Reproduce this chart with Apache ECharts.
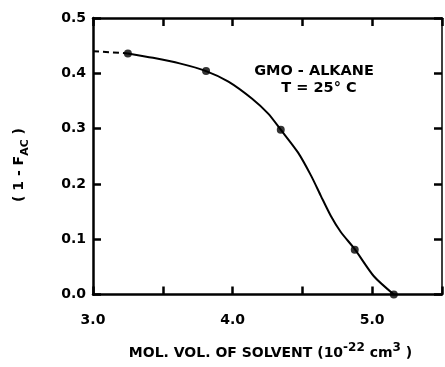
<!DOCTYPE html>
<html>
<head>
<meta charset="utf-8">
<script src="https://cdn.jsdelivr.net/npm/echarts@6/dist/echarts.min.js"></script>
<style>
  html, body { margin: 0; padding: 0; background: #fff; }
  #chart { width: 445px; height: 367px; }
</style>
</head>
<body>
<div id="chart"></div>
<script>
// Measured points: molar volume of solvent (1e-22 cm^3) vs (1 - F_AC)
const molVol = [3.25, 3.81, 4.345, 4.875, 5.155];
const oneMinusFac = [0.436, 0.404, 0.298, 0.081, 0.0];

// Hand-drawn trend curve through the points
const curveX = [3.25, 3.43, 3.62, 3.81, 3.97, 4.14, 4.255, 4.345, 4.468, 4.562, 4.633, 4.704, 4.775, 4.875, 5.012, 5.155];
const curveY = [0.436, 0.428, 0.418, 0.404, 0.385, 0.354, 0.327, 0.298, 0.257, 0.215, 0.178, 0.142, 0.113, 0.082, 0.033, 0.0];

// Dashed extrapolation toward the y axis
const extX = [3.0, 3.25];
const extY = [0.44, 0.436];

// Axis ranges and tick labels
const xMin = 3.0, xMax = 5.5, xStep = 0.5;
const yMin = 0.0, yMax = 0.5, yStep = 0.1;
const xTickLabels = ['3.0', '4.0', '5.0'];

const pairs = (xs, ys) => xs.map((x, i) => [x, ys[i]]);
const FONT = 'DejaVu Sans';
const INK = '#000';

// Ticks point into the plot on all four sides
const makeTick = () => ({ show: true, inside: true, length: 8, lineStyle: { color: INK, width: 2.5 } });
// Keep every axis line on its own edge of the frame
const makeLine = (w) => ({ show: true, onZero: false, lineStyle: { color: INK, width: w } });

const chart = echarts.init(document.getElementById('chart'));

chart.setOption({
  animation: false,
  grid: { left: 93, right: 1, top: 18, bottom: 72.5 },
  xAxis: [
    {
      type: 'value', position: 'bottom', min: xMin, max: xMax, interval: xStep,
      axisLine: makeLine(2.5),
      axisTick: makeTick(),
      splitLine: { show: false },
      axisLabel: {
        margin: 19, color: INK, fontFamily: FONT, fontWeight: 'bold', fontSize: 14,
        formatter: v => {
          const s = v.toFixed(1);
          return xTickLabels.indexOf(s) >= 0 ? s : '';
        }
      },
      name: '{m|MOL. VOL. OF SOLVENT (10}{p|-22}{m| cm}{p|3}{m| )}',
      nameLocation: 'middle',
      nameGap: 47,
      nameTextStyle: {
        padding: [0, 0, 0, 6],
        rich: {
          m: { fontFamily: FONT, fontWeight: 'bold', fontSize: 14, color: INK, lineHeight: 24, verticalAlign: 'middle' },
          p: { fontFamily: FONT, fontWeight: 'bold', fontSize: 12, color: INK, lineHeight: 12, verticalAlign: 'top' }
        }
      }
    },
    {
      type: 'value', position: 'top', min: xMin, max: xMax, interval: xStep,
      axisLine: makeLine(2.5),
      axisTick: makeTick(),
      axisLabel: { show: false },
      splitLine: { show: false }
    }
  ],
  yAxis: [
    {
      type: 'value', position: 'left', min: yMin, max: yMax, interval: yStep,
      axisLine: makeLine(2.5),
      axisTick: makeTick(),
      splitLine: { show: false },
      axisLabel: {
        margin: 7, color: INK, fontFamily: FONT, fontWeight: 'bold', fontSize: 14,
        formatter: v => v.toFixed(1)
      }
    },
    {
      type: 'value', position: 'right', min: yMin, max: yMax, interval: yStep,
      axisLine: makeLine(1.5),
      axisTick: makeTick(),
      axisLabel: { show: false },
      splitLine: { show: false }
    }
  ],
  graphic: [
    {
      type: 'text', x: 19, y: 165, rotation: Math.PI / 2,
      style: {
        text: '{m|( 1 - F}{s|AC}{m| )}',
        align: 'center', verticalAlign: 'middle',
        rich: {
          m: { fontFamily: FONT, fontWeight: 'bold', fontSize: 14, fill: INK, lineHeight: 24, verticalAlign: 'middle' },
          s: { fontFamily: FONT, fontWeight: 'bold', fontSize: 11, fill: INK, lineHeight: 11, verticalAlign: 'bottom' }
        }
      }
    },
    {
      type: 'text', x: 314, y: 71,
      style: {
        text: 'GMO - ALKANE', fill: INK,
        font: 'bold 14.5px "DejaVu Sans"', align: 'center', verticalAlign: 'middle'
      }
    },
    {
      type: 'text', x: 319, y: 88,
      style: {
        text: 'T = 25° C', fill: INK,
        font: 'bold 14.5px "DejaVu Sans"', align: 'center', verticalAlign: 'middle'
      }
    }
  ],
  series: [
    {
      name: 'extrapolation', type: 'line', xAxisIndex: 0, yAxisIndex: 0,
      data: pairs(extX, extY), showSymbol: false,
      lineStyle: { color: INK, width: 2, type: [6, 4] }
    },
    {
      name: 'trend', type: 'line', xAxisIndex: 0, yAxisIndex: 0,
      data: pairs(curveX, curveY), showSymbol: false, smooth: 0.25,
      lineStyle: { color: INK, width: 2 }
    },
    {
      name: 'measured', type: 'scatter', xAxisIndex: 0, yAxisIndex: 0,
      data: pairs(molVol, oneMinusFac), symbol: 'circle', symbolSize: 8,
      itemStyle: { color: INK }, z: 5
    }
  ]
});
</script>
</body>
</html>
